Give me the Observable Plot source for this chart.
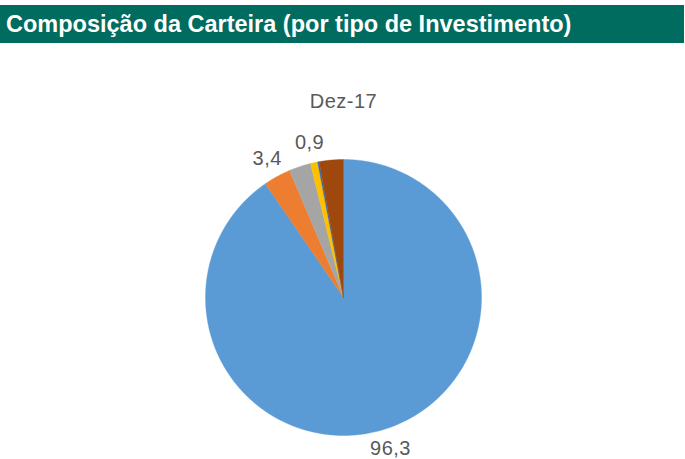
<!DOCTYPE html>
<html>
<head>
<meta charset="utf-8">
<script src="https://cdn.jsdelivr.net/npm/d3@7"></script>
<script src="https://cdn.jsdelivr.net/npm/@observablehq/plot@0.6"></script>
<style>
  html, body { margin: 0; padding: 0; background: #fff; }
  body { width: 685px; height: 459px; overflow: hidden; font-family: "Liberation Sans", Arial, sans-serif; }
  #bar { margin-top: 5px; width: 684px; height: 38px; background: #006B5F; color: #fff;
         font-weight: bold; font-size: 23.5px; line-height: 38px; padding-left: 6px; box-sizing: border-box; white-space: nowrap; }
  #chart svg { display: block; }
</style>
</head>
<body>
<div id="bar">Composição da Carteira (por tipo de Investimento)</div>
<div id="chart"></div>
<script>
// Data (values in %)
const period = "Dez-17";
const categories = ["A", "B", "C", "D", "E", "F"];
const values = [96.3, 3.4, 2.7, 0.9, 0.2, 3.0];
const labels = ["96,3", "3,4", null, "0,9", null, null];
const colors = ["#5B9BD5", "#ED7D31", "#A5A5A5", "#FFC000", "#3A6AB4", "#9E480E"];

const rows = categories.map((c, i) => ({name: c, value: values[i], label: labels[i]}));
const arcs = d3.pie().sort(null).value(d => d.value)(rows);

// polygon outline of each slice, in unit-circle coordinates
const pts = [];
for (const a of arcs) {
  const n = Math.max(2, Math.ceil((a.endAngle - a.startAngle) / (Math.PI / 360)));
  pts.push({name: a.data.name, x: 0, y: 0});
  for (let k = 0; k <= n; k++) {
    const t = a.startAngle + (a.endAngle - a.startAngle) * k / n;
    pts.push({name: a.data.name, x: Math.sin(t), y: Math.cos(t)});
  }
  pts.push({name: a.data.name, x: 0, y: 0});
}
const lab = arcs.filter(a => a.data.label).map(a => {
  const m = (a.startAngle + a.endAngle) / 2;
  return {text: a.data.label, x: 1.15 * Math.sin(m), y: 1.15 * Math.cos(m)};
});

const chart = Plot.plot({
  width: 685,
  height: 416,
  marginLeft: 205,
  marginRight: 204,
  marginTop: 116,
  marginBottom: 24,
  x: {domain: [-1, 1], axis: null},
  y: {domain: [-1, 1], axis: null},
  color: {domain: categories, range: colors},
  style: {fontFamily: "'Liberation Sans', Arial, sans-serif", overflow: "visible"},
  marks: [
    Plot.line(pts, {x: "x", y: "y", z: "name", fill: "name", stroke: "name", strokeWidth: 0.4}),
    Plot.text(lab, {x: "x", y: "y", text: "text", fontSize: 20, fill: "#595959", textAnchor: "middle", lineAnchor: "middle", clip: false}),
    Plot.text([period], {frameAnchor: "top", text: d => d, dy: -52, lineAnchor: "bottom", fontSize: 20, fill: "#595959"})
  ]
});
chart.querySelectorAll("text").forEach(t => t.setAttribute("letter-spacing", "0.5"));
document.getElementById("chart").appendChild(chart);
</script>
</body>
</html>
